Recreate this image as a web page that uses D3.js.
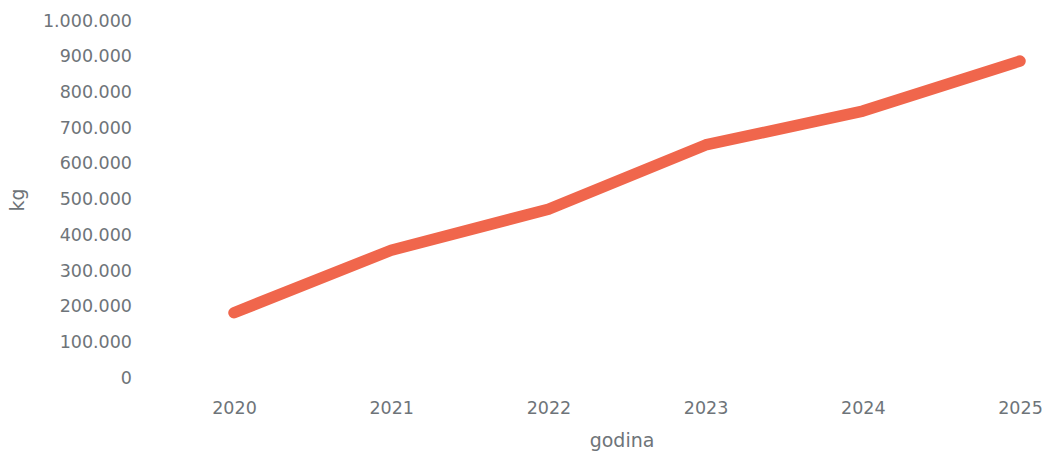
<!DOCTYPE html>
<html><head><meta charset="utf-8">
<script src="https://cdn.jsdelivr.net/npm/d3@7"></script>
<style>body{margin:0;background:#fff}svg text{font-family:"DejaVu Sans","Noto Sans",sans-serif;fill:#6e7479}</style>
</head><body>
<svg id="c" width="1044" height="454"></svg>
<script>
const years = ["2020","2021","2022","2023","2024","2025"];
const values = [180000, 355000, 470000, 650000, 745000, 885000];
const yTicks = [0,100000,200000,300000,400000,500000,600000,700000,800000,900000,1000000];

const svg = d3.select("#c");
const x = d3.scalePoint().domain(years).range([234, 1020]);
const y = d3.scaleLinear().domain([0, 1000000]).range([377, 20]);
const fmt = v => v === 0 ? "0" : d3.format(",")(v).replace(/,/g, ".");

const yAxis = svg.append("g").attr("transform","translate(138,0)")
  .call(d3.axisLeft(y).tickValues(yTicks).tickSize(0).tickPadding(6).tickFormat(fmt));
yAxis.select(".domain").remove();
yAxis.selectAll("text").attr("font-size",17.5).attr("dy","0.35em");

const xAxis = svg.append("g").attr("transform","translate(0,397)")
  .call(d3.axisBottom(x).tickSize(0).tickPadding(5));
xAxis.select(".domain").remove();
xAxis.selectAll("text").attr("font-size",17.5);

svg.append("path").datum(values)
  .attr("fill","none").attr("stroke","#f0664c").attr("stroke-width",11.5)
  .attr("stroke-linecap","round").attr("stroke-linejoin","round")
  .attr("d", d3.line().x((d,i)=>x(years[i])).y(d=>y(d)));

svg.append("text").attr("transform","translate(24,200) rotate(-90)")
  .attr("text-anchor","middle").attr("font-size",19).text("kg");
svg.append("text").attr("x",622).attr("y",447)
  .attr("text-anchor","middle").attr("font-size",19).text("godina");
</script>
</body></html>
